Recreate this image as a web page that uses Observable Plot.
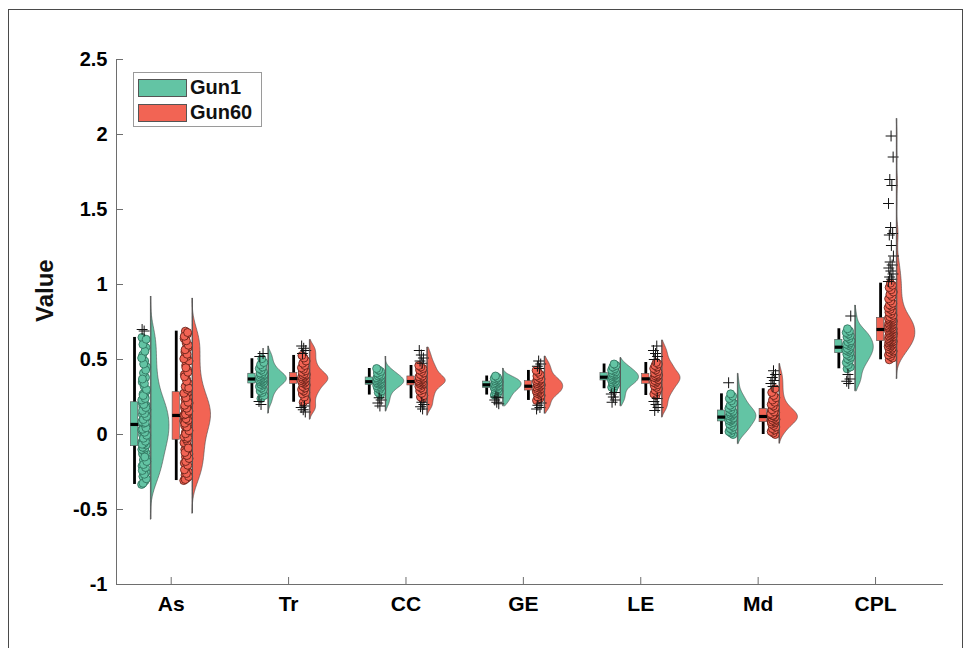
<!DOCTYPE html>
<html>
<head>
<meta charset="utf-8">
<script src="https://cdn.jsdelivr.net/npm/d3@7"></script>
<script src="https://cdn.jsdelivr.net/npm/@observablehq/plot@0.6"></script>
<style>
  body { margin: 0; background: #fff; font-family: "Liberation Sans", Arial, Helvetica, sans-serif; }
  #wrap { position: relative; width: 973px; height: 648px; overflow: hidden; background: #fff; }
  #frame { position: absolute; left: 8px; top: 9px; width: 953px; height: 700px; border: 1.5px solid #4a4a4a; pointer-events: none; }
  #legend { position: absolute; left: 133px; top: 72px; width: 127px; height: 53px; border: 1px solid #9a9a9a; background: #fff; }
  .item { position: absolute; left: 4px; height: 19px; display: flex; align-items: center; }
  .sw { width: 49px; height: 18px; border: 1px solid #555; box-sizing: border-box; }
  .lab { margin-left: 3px; font-weight: bold; font-size: 20px; color: #111; }
</style>
</head>
<body>
<div id="wrap">
  <div id="chart"></div>
  <div id="frame"></div>
  <div id="legend"></div>
</div>
<script>
// ---------------- DATA ----------------
const categories = ["As", "Tr", "CC", "GE", "LE", "Md", "CPL"];
const seriesNames = ["Gun1", "Gun60"];
const yTickValues = [-1, -0.5, 0, 0.5, 1, 1.5, 2, 2.5];

// individual observations (estimated)
const asGun1 = [-0.333,-0.31,-0.28,-0.25,-0.23,-0.21,-0.19,-0.17,-0.16,-0.14,-0.13,-0.12,-0.11,-0.10,-0.09,
  -0.325,-0.295,-0.265,-0.24,-0.22,-0.20,-0.18,-0.15,-0.085,
  -0.07,-0.06,-0.05,-0.04,-0.03,-0.02,-0.01,0.0,0.01,0.02,0.03,0.04,0.05,0.055,0.062,
  -0.065,-0.045,-0.025,-0.005,0.015,0.035,0.045,
  0.075,0.085,0.095,0.105,0.115,0.125,0.135,0.145,0.155,0.165,0.175,0.185,0.195,0.205,0.212,
  0.08,0.10,0.12,0.14,0.16,0.18,0.20,
  0.23,0.25,0.27,0.29,0.32,0.35,0.38,0.41,0.45,0.49,0.53,0.58,0.62,0.647,
  0.24,0.26,0.30,0.34,0.37,0.43,0.47,0.51,0.555,0.60,0.635,0.69,0.70];
const asGun60 = [-0.307,-0.29,-0.27,-0.25,-0.22,-0.19,-0.17,-0.15,-0.13,-0.11,-0.10,-0.08,-0.07,-0.055,-0.045,
  -0.30,-0.28,-0.26,-0.235,-0.205,-0.18,-0.16,-0.14,-0.12,-0.09,
  -0.03,-0.015,0.0,0.015,0.03,0.045,0.06,0.07,0.08,0.09,0.10,0.11,0.115,0.12,0.125,
  -0.02,0.005,0.025,0.05,0.075,0.095,0.105,
  0.13,0.14,0.15,0.16,0.17,0.18,0.19,0.20,0.21,0.22,0.235,0.25,0.26,0.27,0.28,
  0.135,0.155,0.175,0.195,0.215,0.245,0.275,
  0.30,0.32,0.34,0.37,0.40,0.43,0.46,0.49,0.52,0.55,0.58,0.61,0.64,0.67,0.689,
  0.31,0.355,0.385,0.415,0.445,0.505,0.535,0.565,0.595,0.625,0.655,0.68];
const trGun1 = [0.24,0.26,0.28,0.29,0.30,0.31,0.32,0.33,0.335,0.342,0.348,0.352,0.356,0.36,0.364,0.368,
  0.372,0.376,0.38,0.385,0.39,0.395,0.40,0.404,0.41,0.42,0.43,0.44,0.45,0.465,0.48,0.505,0.52,0.54,0.20,0.22];
const trGun60 = [0.215,0.23,0.25,0.27,0.28,0.29,0.30,0.31,0.32,0.33,0.34,0.345,0.35,0.355,0.36,0.365,0.37,
  0.375,0.38,0.385,0.39,0.395,0.40,0.405,0.415,0.425,0.435,0.445,0.46,0.475,0.49,0.51,0.527,
  0.15,0.165,0.18,0.19,0.54,0.56,0.575,0.59];
const ccGun1 = [0.263,0.28,0.29,0.30,0.31,0.315,0.32,0.325,0.333,0.337,0.34,0.343,0.346,0.35,
  0.355,0.358,0.362,0.366,0.37,0.374,0.378,0.385,0.39,0.395,0.40,0.41,0.42,0.43,0.44,0.19,0.21,0.23,0.245];
const ccGun60 = [0.238,0.25,0.26,0.275,0.29,0.30,0.31,0.32,0.33,0.335,0.34,0.344,0.348,0.351,
  0.356,0.36,0.365,0.37,0.375,0.38,0.385,0.39,0.40,0.41,0.42,0.43,0.44,0.45,0.46,
  0.475,0.49,0.51,0.53,0.56,0.17,0.185,0.20,0.215];
const geGun1 = [0.263,0.27,0.28,0.29,0.295,0.30,0.305,0.312,0.316,0.32,0.324,0.328,0.334,0.338,0.342,
  0.346,0.35,0.356,0.36,0.365,0.37,0.375,0.38,0.39,0.205,0.215,0.23,0.245,0.25];
const geGun60 = [0.227,0.24,0.25,0.26,0.27,0.275,0.28,0.285,0.29,0.296,0.30,0.305,0.31,0.315,0.32,
  0.325,0.33,0.335,0.34,0.345,0.35,0.355,0.36,0.365,0.37,0.38,0.39,0.40,0.415,0.427,
  0.44,0.455,0.47,0.49,0.17,0.18,0.195,0.21];
const leGun1 = [0.305,0.315,0.325,0.335,0.34,0.345,0.35,0.355,0.362,0.366,0.37,0.374,0.378,
  0.385,0.39,0.394,0.398,0.402,0.406,0.412,0.418,0.425,0.43,0.44,0.45,0.46,0.47,
  0.215,0.23,0.25,0.27,0.28];
const leGun60 = [0.26,0.27,0.285,0.295,0.305,0.315,0.325,0.332,0.342,0.348,0.354,0.36,0.366,
  0.376,0.381,0.386,0.391,0.396,0.401,0.41,0.42,0.43,0.44,0.45,0.46,0.47,0.48,
  0.50,0.52,0.54,0.56,0.59,0.16,0.18,0.20,0.22,0.24];
const mdGun1 = [0.0,0.01,0.02,0.03,0.04,0.05,0.06,0.07,0.08,0.09,0.095,0.10,0.105,0.11,
  0.12,0.125,0.13,0.135,0.14,0.145,0.15,0.155,0.165,0.175,0.185,0.195,0.21,0.225,0.24,0.255,0.271,0.345];
const mdGun60 = [0.0,0.01,0.02,0.03,0.04,0.05,0.06,0.07,0.078,0.086,0.092,0.098,0.104,0.11,0.116,
  0.084,0.089,0.095,0.101,0.107,0.113,0.118,
  0.125,0.13,0.136,0.142,0.148,0.155,0.162,0.168,0.128,0.139,0.151,0.165,
  0.18,0.19,0.20,0.215,0.23,0.245,0.26,0.28,0.305,
  0.32,0.34,0.36,0.38,0.40,0.425];
const cplGun1 = [0.438,0.45,0.465,0.48,0.495,0.505,0.515,0.525,0.535,0.548,0.555,0.562,0.568,0.575,
  0.588,0.595,0.602,0.61,0.618,0.625,0.64,0.65,0.66,0.67,0.68,0.69,0.705,0.79,0.34,0.355,0.37,0.40];
const cplGun60 = [0.498,0.51,0.52,0.53,0.54,0.548,0.556,0.563,0.57,0.576,0.582,0.588,0.593,0.598,0.603,0.607,0.611,0.615,0.618,0.621,
  0.624,0.628,0.632,0.636,0.64,0.644,0.648,0.652,0.656,0.66,0.664,0.668,0.672,0.676,0.68,0.684,0.688,0.692,0.696,0.699,
  0.703,0.707,0.711,0.715,0.719,0.723,0.727,0.731,0.735,0.739,0.743,0.747,0.751,0.755,0.759,0.763,0.767,0.771,0.775,0.778,
  0.785,0.795,0.805,0.815,0.825,0.835,0.845,0.855,0.865,0.875,0.89,0.905,0.92,0.935,0.95,0.965,0.98,0.995,1.009,
  1.02,1.035,1.05,1.07,1.09,1.11,1.13,1.15,1.19,1.26,1.33,1.34,1.38,1.54,1.66,1.70,1.85,1.99];

const gun1Values = [asGun1, trGun1, ccGun1, geGun1, leGun1, mdGun1, cplGun1];
const gun60Values = [asGun60, trGun60, ccGun60, geGun60, leGun60, mdGun60, cplGun60];

// box-plot statistics (per category)
const gun1Q1 = [-0.078, 0.34, 0.331, 0.31, 0.36, 0.087, 0.542];
const gun1Median = [0.067, 0.37, 0.352, 0.331, 0.382, 0.116, 0.582];
const gun1Q3 = [0.215, 0.405, 0.38, 0.353, 0.409, 0.16, 0.631];
const gun1WhiskerLow = [-0.333, 0.24, 0.263, 0.263, 0.305, 0.0, 0.438];
const gun1WhiskerHigh = [0.647, 0.505, 0.44, 0.39, 0.47, 0.271, 0.705];
const gun60Q1 = [-0.035, 0.338, 0.327, 0.293, 0.338, 0.082, 0.622];
const gun60Median = [0.127, 0.373, 0.353, 0.322, 0.371, 0.12, 0.70];
const gun60Q3 = [0.282, 0.41, 0.387, 0.356, 0.404, 0.171, 0.778];
const gun60WhiskerLow = [-0.307, 0.215, 0.238, 0.227, 0.26, 0.0, 0.498];
const gun60WhiskerHigh = [0.689, 0.527, 0.46, 0.427, 0.48, 0.305, 1.009];

// density (half-violin) extent and kernel bandwidth
const gun1DensityLow = [-0.567, 0.14, 0.155, 0.19, 0.19, -0.062, 0.29];
const gun1DensityHigh = [0.92, 0.587, 0.52, 0.44, 0.51, 0.405, 0.86];
const gun60DensityLow = [-0.527, 0.10, 0.127, 0.14, 0.115, -0.06, 0.37];
const gun60DensityHigh = [0.907, 0.63, 0.58, 0.52, 0.627, 0.47, 2.105];
const gun1Bandwidth = [0.085, 0.03, 0.027, 0.024, 0.027, 0.04, 0.045];
const gun60Bandwidth = [0.085, 0.03, 0.028, 0.027, 0.03, 0.04, 0.055];

// ---------------- LAYOUT / STYLE ----------------
const W = 973, H = 648;
const M = {left: 116, right: 30, top: 59, bottom: 64};
const innerW = W - M.left - M.right, innerH = H - M.top - M.bottom;
const xDomain = [0.534, 7.579];
const yDomain = [-1, 2.5];
const axisColor = "#6e6e6e";
const style = {
  Gun1: {fill: "#63c4a4", edge: "#2c6c58", box: -0.3125, dotFrom: -0.252, dotTo: -0.207, base: -0.173},
  Gun60: {fill: "#f26454", edge: "#5a1a12", box: 0.043, dotFrom: 0.107, dotTo: 0.153, base: 0.181}
};
const boxHalf = 0.031, medianHalf = 0.035, violinWidth = 0.158;

const stats = {
  Gun1: {vals: gun1Values, q1: gun1Q1, med: gun1Median, q3: gun1Q3, wlo: gun1WhiskerLow, whi: gun1WhiskerHigh,
         dlo: gun1DensityLow, dhi: gun1DensityHigh, bw: gun1Bandwidth},
  Gun60: {vals: gun60Values, q1: gun60Q1, med: gun60Median, q3: gun60Q3, wlo: gun60WhiskerLow, whi: gun60WhiskerHigh,
          dlo: gun60DensityLow, dhi: gun60DensityHigh, bw: gun60Bandwidth}
};

function kde(values, bw, lo, hi) {
  const n = 160;
  return d3.range(n).map(i => {
    const y = lo + (hi - lo) * i / (n - 1);
    const d = d3.mean(values, v => Math.exp(-0.5 * ((y - v) / bw) ** 2));
    return {v: y, d};
  });
}

const underMarks = [], boxMarks = [], dotMarks = [], lineMarks = [];
for (const s of seriesNames) {
  const st = stats[s], sty = style[s];
  const boxes = [], violin = [], dots = [], plus = [];
  categories.forEach((c, ci) => {
    const cx = ci + 1;
    boxes.push({cat: c, xc: cx + sty.box, base: cx + sty.base, q1: st.q1[ci], med: st.med[ci], q3: st.q3[ci],
                wlo: st.wlo[ci], whi: st.whi[ci], dlo: st.dlo[ci], dhi: st.dhi[ci]});
    const dens = kde(st.vals[ci], st.bw[ci], st.dlo[ci], st.dhi[ci]);
    const mx = d3.max(dens, d => d.d);
    for (const p of dens) violin.push({key: c, v: p.v, base: cx + sty.base, edge: cx + sty.base + violinWidth * p.d / mx});
    st.vals[ci].forEach((v, i) => {
      const frac = (i * 0.6180339887 + ci * 0.37) % 1;
      const row = {v, x: cx + sty.dotFrom + frac * (sty.dotTo - sty.dotFrom)};
      if (v < st.wlo[ci] - 1e-9 || v > st.whi[ci] + 1e-9) plus.push(row); else dots.push(row);
    });
  });
  underMarks.push(Plot.areaX(violin, {y: "v", x1: "base", x2: "edge", z: "key", fill: sty.fill, stroke: "#4a4a4a", strokeWidth: 0.6}));
  boxMarks.push(
    Plot.ruleX(boxes, {x: "xc", y1: "wlo", y2: "whi", stroke: "#000", strokeWidth: 2.8}),
    Plot.rect(boxes, {x1: d => d.xc - boxHalf, x2: d => d.xc + boxHalf, y1: "q1", y2: "q3", fill: sty.fill, stroke: "#555", strokeWidth: 0.6}),
    Plot.link(boxes, {x1: d => d.xc - medianHalf, x2: d => d.xc + medianHalf, y1: "med", y2: "med", stroke: "#000", strokeWidth: 3.2})
  );
  dotMarks.push(
    Plot.dot(dots, {x: "x", y: "v", r: 4, fill: sty.fill, stroke: sty.edge, strokeWidth: 0.8}),
    Plot.dot(plus, {x: "x", y: "v", r: 3.6, symbol: "plus", stroke: "#111", strokeWidth: 1})
  );
  lineMarks.push(Plot.ruleX(boxes, {x: "base", y1: "dlo", y2: "dhi", stroke: "#555", strokeWidth: 1}));
}

const xTicks = d3.range(1, categories.length + 1);
const chart = Plot.plot({
  width: W, height: H,
  marginLeft: M.left, marginRight: M.right, marginTop: M.top, marginBottom: M.bottom,
  x: {type: "linear", domain: xDomain},
  y: {type: "linear", domain: yDomain},
  style: {fontFamily: '"Liberation Sans", Arial, Helvetica, sans-serif', fontWeight: "bold", color: "#000", background: "transparent", overflow: "visible"},
  marks: [
    ...underMarks,
    ...boxMarks,
    ...dotMarks,
    ...lineMarks,
    Plot.ruleX([xDomain[0]], {stroke: axisColor, strokeWidth: 1}),
    Plot.ruleY([yDomain[0]], {stroke: axisColor, strokeWidth: 1}),
    Plot.ruleY(yTickValues, {stroke: axisColor, insetRight: innerW - 7}),
    Plot.ruleX(xTicks, {stroke: axisColor, insetTop: innerH - 7}),
    Plot.axisY(yTickValues, {tickSize: 0, tickPadding: 9, tickFormat: d => String(d), fontSize: 20, label: null}),
    Plot.axisX(xTicks, {tickSize: 0, tickPadding: 12, tickFormat: d => categories[d - 1], fontSize: 21, label: null}),
    Plot.text(["Value"], {frameAnchor: "left", dx: -71, rotate: -90, fontSize: 24, fontWeight: "bold", fill: "#111"})
  ]
});
document.getElementById("chart").appendChild(chart);

// legend
const legend = document.getElementById("legend");
seriesNames.forEach((s, i) => {
  const item = document.createElement("div");
  item.className = "item";
  item.style.top = (5 + i * 25) + "px";
  const sw = document.createElement("div");
  sw.className = "sw";
  sw.style.background = style[s].fill;
  const lab = document.createElement("span");
  lab.className = "lab";
  lab.textContent = s;
  item.appendChild(sw); item.appendChild(lab);
  legend.appendChild(item);
});
</script>
</body>
</html>
